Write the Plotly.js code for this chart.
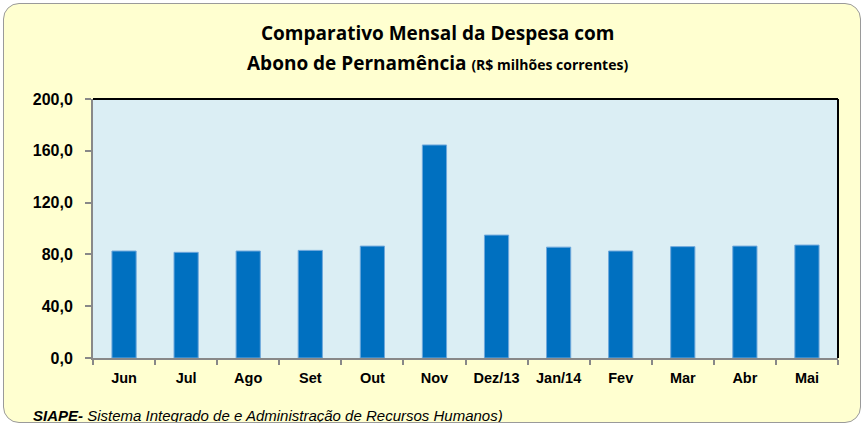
<!DOCTYPE html>
<html><head><meta charset="utf-8">
<script src="https://cdn.plot.ly/plotly-3.0.1.min.js"></script>
<style>
html,body{margin:0;padding:0;background:#fff;}
#wrap{position:absolute;left:3px;top:3px;width:856px;height:418px;border:1.5px solid #9a9a9a;border-radius:16px;background:#FFFFD0;overflow:hidden;}
#chart{position:absolute;left:-3px;top:-3px;width:866px;height:427px;}
</style></head>
<body><div id="wrap"><div id="chart"></div></div>
<script>
const months = ["Jun","Jul","Ago","Set","Out","Nov","Dez/13","Jan/14","Fev","Mar","Abr","Mai"];
const values = [82.6, 81.6, 82.6, 83.1, 86.4, 164.5, 94.9, 85.6, 82.6, 86.0, 86.4, 87.2];
const yTicks = [0, 40, 80, 120, 160, 200];

const L = 92, R = 29, T = 98, B = 70, W = 866, H = 427;
const pw = W - L - R, ph = H - T - B;
const px = x => (x - L) / pw;
const py = y => (H - B - y) / ph;

const trace = {
  type: 'bar', x: months, y: values,
  marker: {color: '#0070C0', line: {color: '#6FA8DC', width: 1}},
  hoverinfo: 'x+y'
};

const layout = {
  width: W, height: H,
  margin: {l: L, r: R, t: T, b: B},
  paper_bgcolor: 'rgba(0,0,0,0)',
  plot_bgcolor: '#DBEEF4',
  separators: ',.',
  showlegend: false,
  bargap: 0.61,
  font: {family: 'Liberation Sans, Arial, sans-serif', color: '#000'},
  xaxis: {
    type: 'category', tickson: 'boundaries', ticks: 'outside', ticklen: 5,
    tickcolor: '#888', tickwidth: 2, showline: true, linecolor: '#888', linewidth: 2,
    showgrid: false, zeroline: false, ticklabelstandoff: 6,
    tickfont: {family: 'Liberation Sans, Arial', size: 14.5, weight: 'bold'}
  },
  yaxis: {
    range: [0, 200], tickvals: yTicks, tickformat: '.1f',
    ticks: 'outside', ticklen: 6, tickcolor: '#888', tickwidth: 2,
    showline: true, linecolor: '#888', linewidth: 2,
    showgrid: false, zeroline: false, ticklabelstandoff: 9,
    tickfont: {family: 'Liberation Sans, Arial', size: 16, weight: 'bold'}
  },
  shapes: [
    {type: 'line', xref: 'paper', yref: 'paper', x0: 0, x1: 1, y0: 1, y1: 1, line: {color: '#000', width: 2}},
    {type: 'line', xref: 'paper', yref: 'paper', x0: 1, x1: 1, y0: 0, y1: 1, line: {color: '#000', width: 2}}
  ],
  annotations: [
    {xref: 'paper', yref: 'paper', x: px(436), y: py(32), xanchor: 'center', yanchor: 'middle', showarrow: false,
     text: 'Comparativo Mensal da Despesa com',
     font: {family: 'Open Sans, sans-serif', size: 19, weight: 'bold'}},
    {xref: 'paper', yref: 'paper', x: px(436), y: py(62), xanchor: 'center', yanchor: 'middle', showarrow: false,
     text: 'Abono de Pernamência <span style="font-size:14px">(R$ milhões correntes)</span>',
     font: {family: 'Open Sans, sans-serif', size: 19, weight: 'bold'}},
    {xref: 'paper', yref: 'paper', x: px(30), y: py(414), xanchor: 'left', yanchor: 'middle', showarrow: false,
     text: '<b><i>SIAPE-</i></b><i> Sistema Integrado de e Administração de Recursos Humanos)</i>',
     font: {family: 'Liberation Sans, Arial', size: 15}}
  ]
};

Plotly.newPlot('chart', [trace], layout, {displayModeBar: false, staticPlot: true});
</script></body></html>
